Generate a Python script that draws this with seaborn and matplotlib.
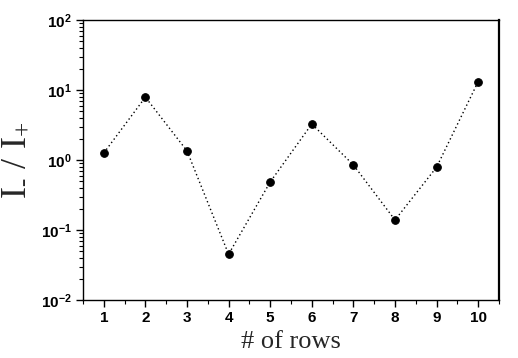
import matplotlib
matplotlib.use("Agg")
import matplotlib.pyplot as plt
import matplotlib.ticker as mticker
import seaborn as sns
import pandas as pd

rows = [1, 2, 3, 4, 5, 6, 7, 8, 9, 10]
ratio = [1.26, 7.9, 1.35, 0.045, 0.485, 3.27, 0.85, 0.139, 0.79, 13.2]

sns.set_theme(style="white")
plt.rcParams['font.family'] = ['Liberation Sans', 'DejaVu Sans']
plt.rcParams['mathtext.fontset'] = 'custom'
plt.rcParams['mathtext.rm'] = 'Liberation Serif'
plt.rcParams['mathtext.it'] = 'Liberation Serif'

df = pd.DataFrame({"rows": rows, "ratio": ratio})

fig = plt.figure(figsize=(5.18, 3.58), dpi=100)
ax = fig.add_axes([83 / 518, 58 / 358, (499 - 83) / 518, (300 - 20) / 358])

sns.lineplot(data=df, x="rows", y="ratio", ax=ax, color="black",
             linestyle=(0, (1, 2)), linewidth=1.0, marker="o",
             markersize=5.5, markerfacecolor="black", markeredgecolor="black")

ax.set_yscale("log")
ax.set_ylim(1e-2, 1e2)
ax.set_xlim(0.5, 10.5)
ax.set_xticks(rows)
ax.xaxis.set_minor_locator(mticker.MultipleLocator(0.5))
ax.yaxis.set_major_locator(mticker.LogLocator(base=10, numticks=10))
ax.yaxis.set_minor_locator(mticker.LogLocator(base=10, subs=range(2, 10), numticks=20))
ax.yaxis.set_minor_formatter(mticker.NullFormatter())

ax.tick_params(axis="both", which="major", direction="out", length=5, width=1,
               color="black", labelsize=11, labelcolor="black", pad=3,
               bottom=True, left=True, top=False, right=False)
ax.tick_params(axis="both", which="minor", direction="out", length=3, width=0.8,
               color="black", bottom=True, left=True, top=False, right=False)
for lab in ax.get_xticklabels() + ax.get_yticklabels():
    lab.set_fontweight("bold")

for side, sp in ax.spines.items():
    sp.set_color("black")
    sp.set_linewidth(1.0)
ax.spines["right"].set_linewidth(1.6)

ax.set_xlabel("# of rows", fontsize=19, family=["Liberation Serif"], labelpad=4)
ax.set_ylabel(r"$\mathregular{I_{\text{-}}\ /\ I_{+}}$", fontsize=26,
              family=["Liberation Serif"], labelpad=6)

fig.savefig("out.png", dpi=100, facecolor="white")
